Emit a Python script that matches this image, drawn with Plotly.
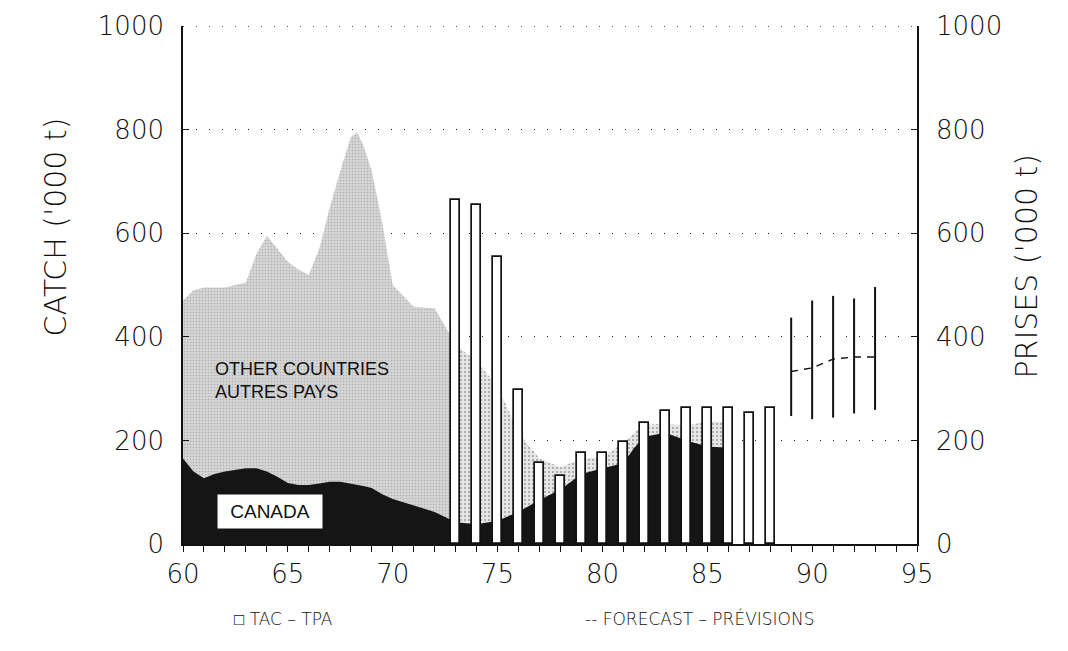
import plotly.graph_objects as go

# Annual catch ('000 t), read at year (and some half-year) positions
years = [60, 60.5, 61, 61.5, 62, 63, 63.5, 64, 64.5, 65, 65.5, 66, 66.5, 67, 67.5,
         68, 68.3, 68.6, 69, 69.5, 70, 71, 72, 72.5, 73, 74, 75, 76, 77, 78, 79, 80,
         81, 81.5, 82, 83, 84, 85, 86]
total_catch = [470, 490, 495, 495, 495, 505, 560, 595, 570, 545, 530, 520, 570, 650, 720,
               785, 795, 770, 720, 620, 500, 458, 455, 420, 385, 352, 305, 215, 165, 148,
               165, 168, 195, 215, 230, 232, 228, 237, 235]
canada_catch = [165, 140, 127, 135, 140, 146, 146, 140, 130, 118, 114, 114, 117, 120, 120,
                117, 115, 112, 108, 96, 87, 75, 62, 52, 42, 38, 45, 62, 85, 105,
                135, 146, 156, 185, 207, 215, 200, 188, 186]

# Total allowable catch (TAC - TPA)
tac_years = [73, 74, 75, 76, 77, 78, 79, 80, 81, 82, 83, 84, 85, 86, 87, 88]
tac = [665, 655, 555, 297, 157, 131, 176, 176, 197, 234, 257, 263, 263, 263, 253, 263]

# Forecast range and central projection
fc_years = [89, 90, 91, 92, 93]
fc_low = [247, 241, 244, 252, 259]
fc_high = [437, 470, 479, 474, 496]
fc_mid = [333, 340, 357, 361, 361]

split = years.index(73)

LIGHT = dict(family="DejaVu Sans", color="#111111", weight=200)
TICK_FONT = dict(size=26, **LIGHT)
INK = "#111111"

fig = go.Figure()

# Other countries: total catch, before and after extended jurisdiction
fig.add_trace(go.Scatter(
    x=years[:split + 1], y=total_catch[:split + 1], mode="lines", line=dict(width=0),
    fill="tozeroy", fillcolor="#cccccc",
    fillpattern=dict(shape=".", bgcolor="#d6d6d6", fgcolor="#8c8c8c", size=3, solidity=0.25),
    hoverinfo="skip", showlegend=False, xaxis="x", yaxis="y"))
fig.add_trace(go.Scatter(
    x=years[split:], y=total_catch[split:], mode="lines", line=dict(width=0),
    fill="tozeroy", fillcolor="#e4e4e4",
    fillpattern=dict(shape=".", bgcolor="#e6e6e6", fgcolor="#5a5a5a", size=4, solidity=0.22),
    hoverinfo="skip", showlegend=False, xaxis="x", yaxis="y"))
# Canada
fig.add_trace(go.Scatter(
    x=years, y=canada_catch, mode="lines", line=dict(width=0, color=INK),
    fill="tozeroy", fillcolor="#151515",
    hoverinfo="skip", showlegend=False, xaxis="x", yaxis="y"))

# TAC bars (overlay axis so they sit above the filled areas)
fig.add_trace(go.Bar(
    x=tac_years, y=tac, width=0.42,
    marker=dict(color="white", line=dict(color=INK, width=1.7)),
    showlegend=False, xaxis="x", yaxis="y2"))

# Forecast ranges as vertical lines
fx, fy = [], []
for yr, lo, hi in zip(fc_years, fc_low, fc_high):
    fx += [yr, yr, None]
    fy += [lo, hi, None]
fig.add_trace(go.Scatter(x=fx, y=fy, mode="lines", line=dict(color=INK, width=2),
                         showlegend=False, hoverinfo="skip", xaxis="x", yaxis="y2"))
fig.add_trace(go.Scatter(x=fc_years, y=fc_mid, mode="lines",
                         line=dict(color=INK, width=1.4, dash="7px,6px"),
                         showlegend=False, hoverinfo="skip", xaxis="x", yaxis="y2"))

L, R, T, B = 183, 151, 26, 107
PW, PH = 1068 - L - R, 651 - T - B


def px(xp):
    return (xp - L) / PW


def py(yp):
    return (T + PH - yp) / PH


annotations = [
    dict(text="CATCH ('000 t)", x=px(35), y=py(227), xref="paper", yref="paper",
         textangle=-90, showarrow=False, font=dict(size=30, **LIGHT)),
    dict(text="PRISES ('000 t)", x=px(1045), y=py(266), xref="paper", yref="paper",
         textangle=-90, showarrow=False, font=dict(size=30, **LIGHT)),
    dict(text="OTHER COUNTRIES<br>AUTRES PAYS", x=61.45, y=315, xref="x", yref="y",
         xanchor="left", align="left", showarrow=False,
         font=dict(family="Liberation Sans", size=18, color="#111")),
    dict(text="CANADA", x=64.15, y=62.7, xref="x", yref="y", showarrow=False,
         bgcolor="white", width=98, height=27, borderpad=3,
         font=dict(family="Liberation Sans", size=19, color="#111")),
    dict(text="□ TAC – TPA", x=px(232), y=py(631), xref="paper", yref="paper",
         xanchor="left", showarrow=False, font=dict(size=17, **LIGHT)),
    dict(text="-- FORECAST – PRÉVISIONS", x=px(583), y=py(631), xref="paper", yref="paper",
         xanchor="left", showarrow=False, font=dict(size=17, **LIGHT)),
]

# dotted rule along the top of the plot at 1000
shapes = [dict(type="line", xref="paper", yref="y", x0=0, x1=1, y0=1000, y1=1000,
               line=dict(color="#222", width=1.4, dash="1px,12px"), layer="below")]

fig.update_layout(
    width=1068, height=651,
    margin=dict(l=L, r=R, t=T, b=B, pad=0),
    paper_bgcolor="white", plot_bgcolor="white",
    bargap=0,
    xaxis=dict(range=[60, 95], tickvals=[60, 65, 70, 75, 80, 85, 90, 95],
               ticks="outside", ticklen=6, tickwidth=1.3, tickcolor=INK,
               minor=dict(dtick=1, ticks="outside", ticklen=6, tickwidth=1.3, tickcolor=INK,
                          showgrid=False),
               showline=True, linecolor=INK, linewidth=1.6,
               showgrid=False, zeroline=False, tickfont=TICK_FONT),
    yaxis=dict(range=[0, 1000], tickvals=[0, 200, 400, 600, 800, 1000],
               ticks="inside", ticklen=6, tickwidth=1.3, tickcolor=INK,
               showline=True, linecolor=INK, linewidth=1.6,
               showgrid=True, gridcolor="#222", gridwidth=1.4, griddash="1px,12px",
               zeroline=False, tickfont=TICK_FONT, ticklabelstandoff=12),
    yaxis2=dict(range=[0, 1000], tickvals=[0, 200, 400, 600, 800, 1000],
                overlaying="y", side="right",
                ticks="inside", ticklen=6, tickwidth=1.3, tickcolor=INK,
                showline=True, linecolor=INK, linewidth=1.6,
                showgrid=False, zeroline=False, tickfont=TICK_FONT, ticklabelstandoff=12),
    shapes=shapes,
    annotations=annotations,
)

fig.write_html("out.html")
